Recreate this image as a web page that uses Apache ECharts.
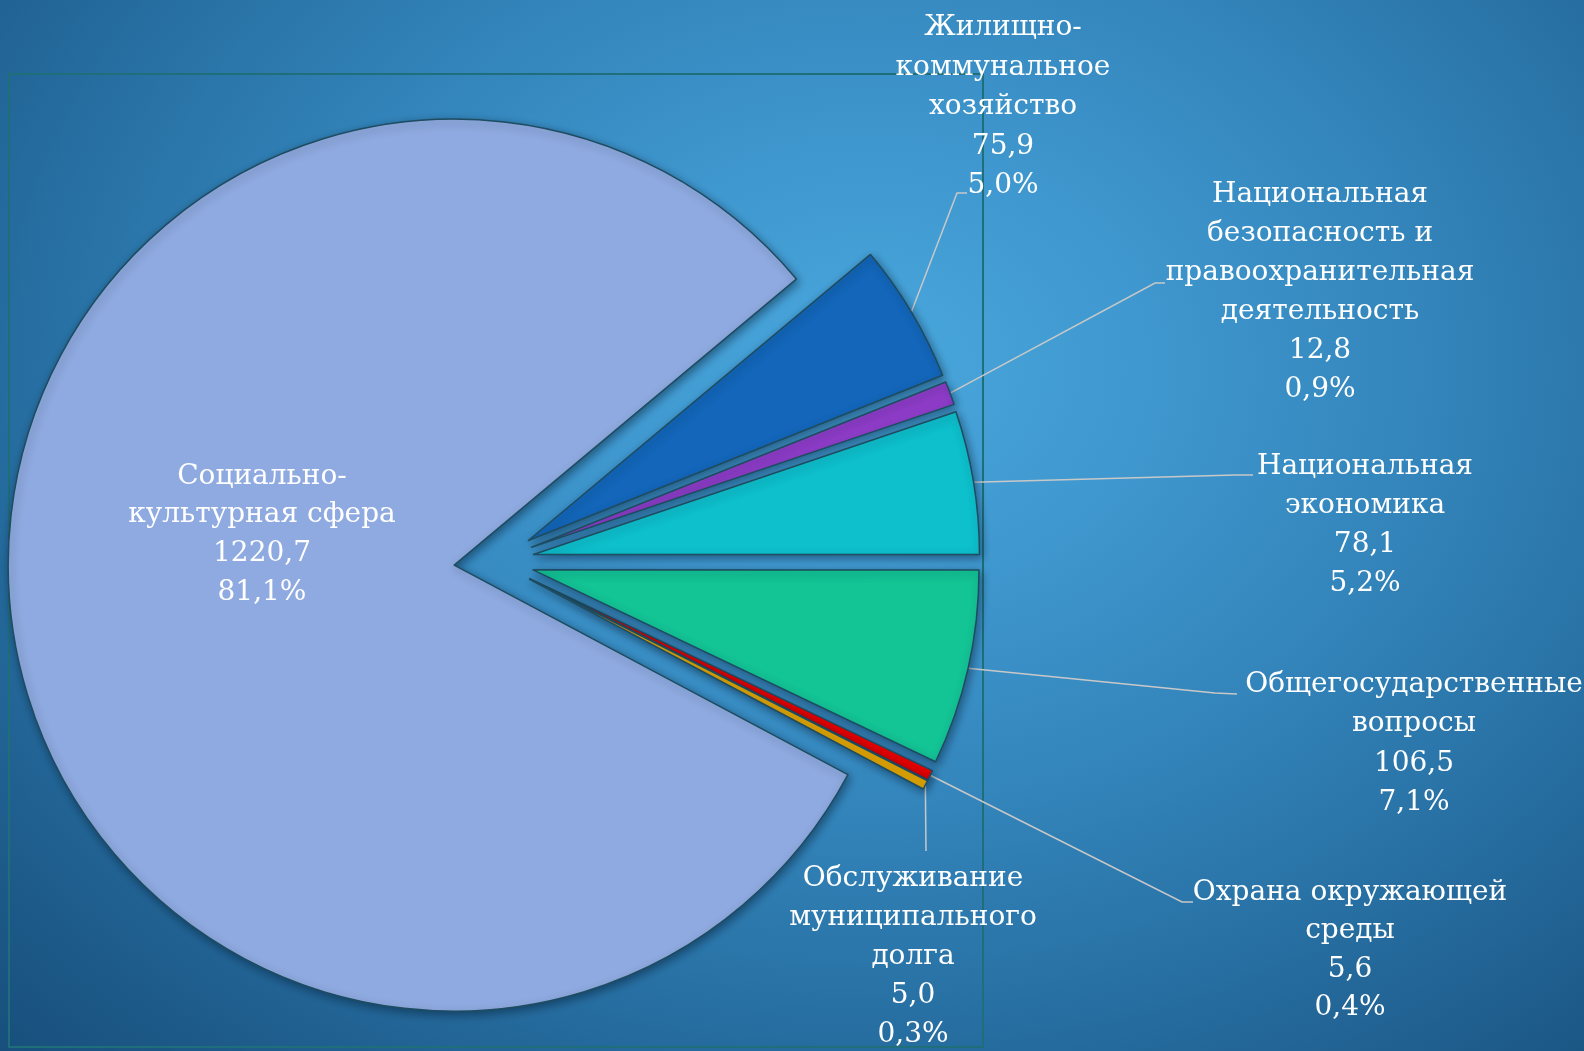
<!DOCTYPE html>
<html>
<head>
<meta charset="utf-8">
<script src="https://cdn.jsdelivr.net/npm/echarts@6/dist/echarts.min.js"></script>
<style>
html,body{margin:0;padding:0;width:1584px;height:1051px;overflow:hidden;}
#chart{width:1584px;height:1051px;
 background: radial-gradient(ellipse at 55% 35%, #49a7dc 0%, #3f98cf 22%, #3385bb 45%, #276fa2 68%, #1d5a89 88%, #184f7c 100%);}
</style>
</head>
<body>
<div id="chart"></div>
<script>
// ---- data ----
const categories = [
  'Жилищно-\nкоммунальное\nхозяйство',
  'Национальная\nбезопасность и\nправоохранительная\nдеятельность',
  'Национальная\nэкономика',
  'Общегосударственные\nвопросы',
  'Охрана окружающей\nсреды',
  'Обслуживание\nмуниципального\nдолга',
  'Социально-\nкультурная сфера'
];
const values = [75.9, 12.8, 78.1, 106.5, 5.6, 5.0, 1220.7];

// ---- styles / layout (not data) ----
const colors = ['#1366BA', '#8E3CC8', '#0DC0CC', '#13C495', '#F20000', '#E6A800', '#8FAAE0'];
const CX = 494, CY = 561, R = 446, OFF = 40, START = 39.9;
// label box: [centerX, topY, lineHeight]
const labelBoxes = [
  [1003, 8, 39.5], [1320, 175, 39], [1365, 447, 39], [1414, 665, 39.3], [1350, 873, 38.6], [913, 859, 39], [262, 457, 38.8]
];
// label line bend + end points
const lineBends = [
  [[957, 193], [967, 193]],
  [[1155, 283], [1165, 283]],
  [[1235, 475], [1253, 475]],
  [[1215, 693], [1237, 694]],
  [[1182, 902], [1193, 902]],
  [[926, 851], [926, 851]],
  null
];

const total = values.reduce((a, b) => a + b, 0);
const midAngles = [];
(function () {
  let a = START;
  values.forEach(v => {
    const span = v / total * 360;
    midAngles.push((a - span / 2) * Math.PI / 180);
    a -= span;
  });
})();

const fmtNum = v => String(v.toFixed(1)).replace('.', ',');
const fmtPct = v => (Math.round(v / total * 1000) / 10).toFixed(1).replace('.', ',') + '%';

const chart = echarts.init(document.getElementById('chart'));
chart.setOption({
  backgroundColor: 'transparent',
  animation: false,
  graphic: [{
    type: 'rect', z: -10, silent: true,
    shape: { x: 9, y: 74, width: 974, height: 973 },
    style: { fill: 'none', stroke: '#1f6f7a', lineWidth: 2 }
  }],
  series: [{
    // visible, exploded slices
    type: 'pie',
    center: [CX, CY],
    radius: R,
    startAngle: START,
    clockwise: true,
    selectedMode: 'multiple',
    selectedOffset: OFF,
    silent: true,
    emphasis: { disabled: true },
    itemStyle: {
      borderColor: '#1e4c60', borderWidth: 1.5,
      shadowBlur: 8, shadowColor: 'rgba(0,25,45,0.45)', shadowOffsetX: 2, shadowOffsetY: 3
    },
    select: { itemStyle: { borderColor: '#1e4c60', borderWidth: 1.5 } },
    label: { show: false },
    labelLine: { show: false },
    data: categories.map((c, i) => ({
      name: c, value: values[i], selected: true,
      itemStyle: { color: colors[i] }
    }))
  }, {
    // label carrier (transparent sectors)
    type: 'pie',
    center: [CX, CY],
    radius: R,
    startAngle: START,
    clockwise: true,
    silent: true,
    avoidLabelOverlap: false,
    emphasis: { disabled: true },
    itemStyle: { color: 'rgba(0,0,0,0)', borderWidth: 0 },
    label: {
      show: true,
      position: 'outside',
      color: '#ffffff',
      fontFamily: 'DejaVu Serif',
      fontSize: 28,
      lineHeight: 39,
      align: 'center',
      formatter: p => p.name + '\n' + fmtNum(p.value) + '\n' + fmtPct(p.value)
    },
    labelLine: { show: true, lineStyle: { color: '#c8c8c8', width: 1.5 } },
    labelLayout: function (p) {
      const i = p.dataIndex;
      const box = labelBoxes[i];
      const out = { x: box[0], y: box[1], align: 'center', verticalAlign: 'top' };
      if (lineBends[i]) {
        const m = midAngles[i];
        const s = [CX + (OFF + R) * Math.cos(m), CY - (OFF + R) * Math.sin(m)];
        out.labelLinePoints = [s, lineBends[i][0], lineBends[i][1]];
      }
      return out;
    },
    data: categories.map((c, i) => ({
      name: c, value: values[i],
      label: { lineHeight: labelBoxes[i][2] },
      labelLine: { show: lineBends[i] !== null }
    }))
  }]
});
</script>
</body>
</html>
